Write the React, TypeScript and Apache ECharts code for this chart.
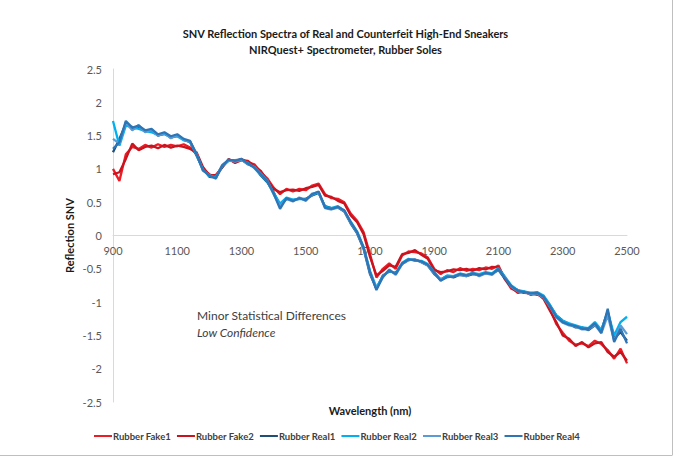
import React, { useEffect, useRef } from "react";
import * as echarts from "echarts";

const titleLines = [
  "SNV Reflection Spectra of Real and Counterfeit High-End Sneakers",
  "NIRQuest+ Spectrometer, Rubber Soles",
];
const xAxisName = "Wavelength (nm)";
const yAxisName = "Reflection SNV";
const seriesNames = [
  "Rubber Fake1",
  "Rubber Fake2",
  "Rubber Real1",
  "Rubber Real2",
  "Rubber Real3",
  "Rubber Real4",
];
const seriesColors = ["#ee1c25", "#c8141e", "#1f4e79", "#00b0f0", "#5b9bd5", "#2e75b6"];

// wavelengths 900..2500 nm, step 20
const wavelengths: number[] = Array.from({ length: 81 }, (_, i) => 900 + i * 20);

const fake1 = [
  1.0, 0.82, 1.22, 1.33, 1.3, 1.36, 1.32, 1.37, 1.33, 1.36,
  1.34, 1.37, 1.32, 1.22, 1.0, 0.92, 0.88, 1.05, 1.13, 1.11,
  1.15, 1.1, 1.07, 0.95, 0.86, 0.72, 0.62, 0.7, 0.66, 0.7,
  0.68, 0.75, 0.78, 0.62, 0.56, 0.55, 0.5, 0.33, 0.22, 0.05,
  -0.28, -0.63, -0.5, -0.42, -0.5, -0.3, -0.24, -0.25, -0.27, -0.33,
  -0.5, -0.58, -0.52, -0.55, -0.49, -0.53, -0.5, -0.52, -0.48, -0.5,
  -0.45, -0.66, -0.8, -0.84, -0.86, -0.87, -0.89, -0.92, -1.1, -1.33,
  -1.46, -1.58, -1.64, -1.62, -1.66, -1.58, -1.63, -1.72, -1.85, -1.7,
  -1.92,
];
const fake2 = [
  0.92, 0.95, 1.15, 1.38, 1.28, 1.33, 1.35, 1.31, 1.36, 1.32,
  1.35, 1.33, 1.3, 1.25, 1.03, 0.9, 0.91, 1.02, 1.15, 1.09,
  1.13, 1.12, 1.04, 0.97, 0.83, 0.7, 0.65, 0.68, 0.69, 0.67,
  0.71, 0.73, 0.76, 0.6, 0.58, 0.52, 0.48, 0.3, 0.2, 0.02,
  -0.32, -0.6, -0.53, -0.45, -0.47, -0.28, -0.26, -0.22, -0.29, -0.35,
  -0.52, -0.55, -0.54, -0.51, -0.52, -0.5, -0.53, -0.49, -0.51, -0.47,
  -0.48, -0.63, -0.78, -0.86, -0.84, -0.89, -0.87, -0.95, -1.13, -1.3,
  -1.5, -1.55, -1.66, -1.6, -1.68, -1.62, -1.6, -1.75, -1.82, -1.75,
  -1.88,
];
const real1 = [
  1.25, 1.45, 1.68, 1.6, 1.62, 1.56, 1.58, 1.5, 1.53, 1.47,
  1.5, 1.44, 1.4, 1.2, 1.0, 0.88, 0.87, 1.03, 1.13, 1.13,
  1.14, 1.07, 1.03, 0.9, 0.8, 0.65, 0.45, 0.55, 0.53, 0.55,
  0.55, 0.6, 0.64, 0.44, 0.41, 0.42, 0.36, 0.18, 0.03, -0.2,
  -0.58, -0.8, -0.6, -0.54, -0.56, -0.43, -0.37, -0.36, -0.4, -0.45,
  -0.58, -0.66, -0.61, -0.63, -0.59, -0.61, -0.58, -0.59, -0.57, -0.57,
  -0.52, -0.65, -0.77, -0.82, -0.86, -0.86, -0.87, -0.91, -1.05, -1.2,
  -1.28, -1.33, -1.38, -1.38, -1.42, -1.35, -1.42, -1.15, -1.55, -1.45,
  -1.58,
];
const real2 = [
  1.72, 1.35, 1.65, 1.63, 1.6, 1.57, 1.55, 1.51, 1.52, 1.48,
  1.49, 1.43, 1.41, 1.21, 0.99, 0.89, 0.88, 1.04, 1.12, 1.13,
  1.13, 1.09, 1.01, 0.91, 0.81, 0.64, 0.48, 0.57, 0.54, 0.55,
  0.54, 0.61, 0.65, 0.43, 0.41, 0.44, 0.37, 0.21, 0.06, -0.17,
  -0.53, -0.78, -0.61, -0.53, -0.57, -0.41, -0.35, -0.38, -0.38, -0.43,
  -0.55, -0.66, -0.6, -0.61, -0.57, -0.59, -0.56, -0.58, -0.55, -0.57,
  -0.49, -0.62, -0.75, -0.82, -0.84, -0.86, -0.85, -0.9, -1.04, -1.2,
  -1.28, -1.32, -1.35, -1.38, -1.39, -1.3, -1.42, -1.14, -1.5, -1.3,
  -1.22,
];
const real3 = [
  1.45, 1.38, 1.7, 1.58, 1.66, 1.55, 1.59, 1.5, 1.54, 1.46,
  1.51, 1.44, 1.41, 1.23, 0.97, 0.91, 0.85, 1.06, 1.13, 1.11,
  1.14, 1.07, 1.03, 0.93, 0.83, 0.62, 0.44, 0.55, 0.51, 0.57,
  0.52, 0.63, 0.65, 0.41, 0.39, 0.42, 0.37, 0.19, 0.04, -0.19,
  -0.56, -0.8, -0.63, -0.51, -0.59, -0.43, -0.37, -0.36, -0.4, -0.45,
  -0.57, -0.67, -0.63, -0.61, -0.59, -0.61, -0.56, -0.61, -0.57, -0.59,
  -0.51, -0.63, -0.77, -0.84, -0.85, -0.88, -0.87, -0.93, -1.07, -1.23,
  -1.31, -1.35, -1.37, -1.41, -1.41, -1.34, -1.47, -1.2, -1.58, -1.35,
  -1.48,
];
const real4 = [
  1.3, 1.4, 1.72, 1.62, 1.65, 1.58, 1.6, 1.52, 1.55, 1.49,
  1.52, 1.45, 1.42, 1.22, 0.98, 0.9, 0.86, 1.05, 1.14, 1.12,
  1.15, 1.08, 1.02, 0.92, 0.82, 0.63, 0.4, 0.56, 0.52, 0.56,
  0.53, 0.62, 0.66, 0.42, 0.4, 0.43, 0.38, 0.2, 0.05, -0.18,
  -0.55, -0.82, -0.62, -0.52, -0.58, -0.42, -0.36, -0.37, -0.39, -0.44,
  -0.56, -0.68, -0.62, -0.62, -0.58, -0.6, -0.57, -0.6, -0.56, -0.58,
  -0.5, -0.64, -0.76, -0.83, -0.85, -0.87, -0.86, -0.92, -1.06, -1.22,
  -1.3, -1.34, -1.36, -1.4, -1.4, -1.32, -1.46, -1.1, -1.6, -1.4,
  -1.62,
];
const allValues = [fake1, fake2, real1, real2, real3, real4];
const annotation = ["Minor Statistical Differences", "Low Confidence"];

const FONT = "Lato, 'Noto Sans', sans-serif";
const GRID_TOP = 69;
const GRID_BOTTOM = 58;
const CHART_H = 460;

export default function App() {
  const ref = useRef<HTMLDivElement>(null);
  useEffect(() => {
    document.body.style.margin = "0";
    const chart = echarts.init(ref.current!, null, { renderer: "svg" });
    const plotH = CHART_H - GRID_TOP - GRID_BOTTOM;
    chart.setOption({
      animation: false,
      backgroundColor: "#ffffff",
      title: {
        text: titleLines.join("\n"),
        left: "center",
        top: 20,
        textStyle: {
          fontFamily: FONT,
          fontSize: 11,
          fontWeight: "bold",
          color: "#1a1a1a",
          lineHeight: 16,
        },
      },
      legend: {
        bottom: 14,
        left: 89,
        itemWidth: 18,
        itemHeight: 2,
        itemGap: 6,
        icon: "rect",
        textStyle: {
          fontFamily: FONT,
          fontSize: 9.5,
          fontWeight: "bold",
          color: "#404040",
          padding: [0, 0, 0, -4],
        },
        data: seriesNames,
      },
      grid: {
        left: 113,
        right: 64,
        top: GRID_TOP,
        bottom: GRID_BOTTOM,
        containLabel: false,
        outerBoundsMode: "none",
      },
      xAxis: {
        type: "value",
        min: 900,
        max: 2500,
        interval: 100,
        position: "bottom",
        offset: -plotH / 2,
        axisLine: { onZero: false, lineStyle: { color: "#d9d9d9", width: 1 } },
        axisTick: { show: false },
        splitLine: { show: false },
        axisLabel: {
          fontFamily: FONT,
          fontSize: 11,
          color: "#595959",
          margin: 9,
          formatter: (v: number) => (Math.round(v / 100) % 2 === 1 ? String(v) : ""),
        },
      },
      yAxis: {
        type: "value",
        min: -2.5,
        max: 2.5,
        interval: 0.5,
        name: yAxisName,
        nameLocation: "middle",
        nameGap: 38,
        nameMoveOverlap: false,
        nameTextStyle: { fontFamily: FONT, fontSize: 11, fontWeight: "bold", color: "#1a1a1a" },
        axisLine: { show: true, onZero: false, lineStyle: { color: "#d9d9d9", width: 1 } },
        axisTick: { show: false },
        splitLine: { show: false },
        axisLabel: { fontFamily: FONT, fontSize: 11, color: "#595959", margin: 11 },
      },
      graphic: [
        {
          type: "text",
          x: 370,
          y: 410,
          style: {
            text: xAxisName,
            font: `bold 11px ${FONT}`,
            fill: "#1a1a1a",
            align: "center",
            verticalAlign: "middle",
          },
        },
        {
          type: "text",
          left: 197,
          top: 309,
          style: { text: annotation[0], font: `12px ${FONT}`, fill: "#404040" },
        },
        {
          type: "text",
          left: 197,
          top: 326,
          style: { text: annotation[1], font: `italic 12px ${FONT}`, fill: "#404040" },
        },
        {
          type: "line",
          shape: { x1: 672.5, y1: 0, x2: 672.5, y2: 455 },
          style: { stroke: "#bfbfbf", lineWidth: 1 },
        },
        {
          type: "line",
          shape: { x1: 0, y1: 455.5, x2: 672.5, y2: 455.5 },
          style: { stroke: "#bfbfbf", lineWidth: 1 },
        },
      ],
      series: seriesNames.map((name, si) => ({
        name,
        type: "line",
        showSymbol: false,
        symbol: "none",
        color: seriesColors[si],
        lineStyle: { width: 2.3, color: seriesColors[si] },
        data: wavelengths.map((w, i) => [w, allValues[si][i]]),
      })),
    });
    return () => chart.dispose();
  }, []);
  return <div ref={ref} style={{ width: 691, height: 460 }} />;
}
